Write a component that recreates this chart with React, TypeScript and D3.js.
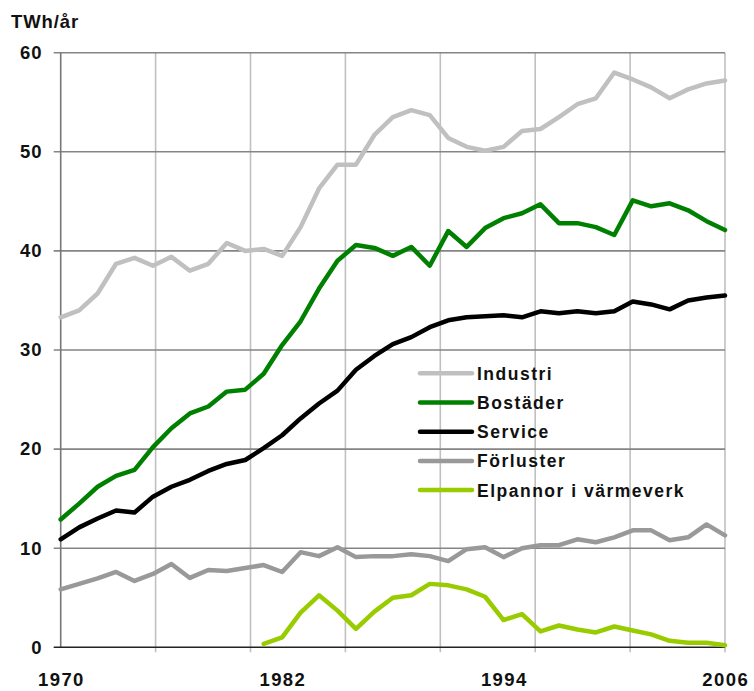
import * as d3 from "d3";

const years = d3.range(1970, 2007);

const industri = [33.3, 34.0, 35.7, 38.7, 39.3, 38.5, 39.4, 38.0, 38.7, 40.8, 40.0, 40.2, 39.5, 42.4, 46.3, 48.7, 48.7, 51.7, 53.5, 54.2, 53.7, 51.4, 50.5, 50.1, 50.5, 52.1, 52.3, 53.5, 54.8, 55.4, 58.0, 57.3, 56.5, 55.4, 56.3, 56.9, 57.2];
const bostader = [12.9, 14.5, 16.2, 17.3, 17.9, 20.2, 22.1, 23.6, 24.3, 25.8, 26.0, 27.6, 30.5, 32.9, 36.2, 39.0, 40.6, 40.3, 39.5, 40.4, 38.5, 42.0, 40.4, 42.3, 43.3, 43.8, 44.7, 42.8, 42.8, 42.4, 41.6, 45.1, 44.5, 44.8, 44.1, 43.0, 42.1];
const service = [10.9, 12.1, 13.0, 13.8, 13.6, 15.2, 16.2, 16.9, 17.8, 18.5, 18.9, 20.1, 21.4, 23.1, 24.6, 25.9, 28.0, 29.4, 30.6, 31.3, 32.3, 33.0, 33.3, 33.4, 33.5, 33.3, 33.9, 33.7, 33.9, 33.7, 33.9, 34.9, 34.6, 34.1, 35.0, 35.3, 35.5];
const forluster = [5.85, 6.4, 6.95, 7.6, 6.7, 7.4, 8.4, 7.0, 7.8, 7.7, 8.0, 8.3, 7.6, 9.6, 9.2, 10.1, 9.1, 9.2, 9.2, 9.4, 9.2, 8.7, 9.9, 10.1, 9.1, 10.0, 10.3, 10.3, 10.9, 10.6, 11.1, 11.8, 11.8, 10.8, 11.1, 12.4, 11.3];
const elpannor = [null, null, null, null, null, null, null, null, null, null, null, 0.35, 1.0, 3.5, 5.25, 3.7, 1.85, 3.6, 5.0, 5.25, 6.4, 6.25, 5.85, 5.1, 2.75, 3.35, 1.6, 2.2, 1.8, 1.5, 2.1, 1.7, 1.3, 0.65, 0.45, 0.45, 0.2];

const seriesNames = ["Industri", "Bostäder", "Service", "Förluster", "Elpannor i värmeverk"];
const seriesColors = ["#c0c0c0", "#008000", "#000000", "#999999", "#99cc00"];
const seriesValues = [industri, bostader, service, forluster, elpannor];

const yTicks = [0, 10, 20, 30, 40, 50, 60];
const xLabels = [1970, 1982, 1994, 2006];

const W = 754;
const H = 691;
const FONT = "'Liberation Sans', Arial, sans-serif";

export default function App() {
  const x = d3.scaleLinear().domain([1970, 2006]).range([60.7, 725]);
  const y = d3.scaleLinear().domain([0, 60]).range([647.3, 52.7]);

  // vertical gridlines split the year span in 7 equal parts
  const vGrid = d3.range(0, 8).map((i) => 1970 + (i * 36) / 7);

  const line = d3
    .line<number | null>()
    .defined((d) => d != null)
    .x((_, i) => x(years[i]))
    .y((d) => y(d as number));

  const legendX = 420;
  const legendY = 373.3;
  const legendStep = 29.2;

  return (
    <svg
      width={W}
      height={H}
      viewBox={`0 0 ${W} ${H}`}
      style={{ position: "absolute", left: 0, top: 0, background: "#fff" }}
    >
      {/* Vertical gridlines with tick stubs below the axis */}
      {vGrid.map((v, i) =>
        i === 0 ? null : (
          <line
            key={"v" + i}
            x1={x(v)}
            x2={x(v)}
            y1={y(60)}
            y2={y(0) + 5}
            stroke="#c0c0c0"
            strokeWidth={1.6}
          />
        )
      )}
      {/* Horizontal gridlines */}
      {yTicks.map((t) =>
        t === 0 ? null : (
          <line
            key={"h" + t}
            x1={x(1970) - 7}
            x2={x(2006)}
            y1={y(t)}
            y2={y(t)}
            stroke="#858585"
            strokeWidth={1.6}
          />
        )
      )}
      {/* Axes */}
      <line x1={x(1970)} x2={x(1970)} y1={y(60)} y2={y(0)} stroke="#777777" strokeWidth={1.6} />
      <line x1={x(1970) - 7} x2={x(2006)} y1={y(0)} y2={y(0)} stroke="#222222" strokeWidth={1.6} />

      {/* Series */}
      {seriesValues.map((vals, i) => (
        <path
          key={seriesNames[i]}
          d={line(vals) ?? ""}
          fill="none"
          stroke={seriesColors[i]}
          strokeWidth={4.5}
          strokeLinejoin="round"
          strokeLinecap="round"
        />
      ))}

      {/* Y tick labels */}
      {yTicks.map((t) => (
        <text
          key={"yl" + t}
          x={42.5}
          y={y(t) + 6.3}
          textAnchor="end"
          fontFamily={FONT}
          fontWeight="bold"
          fontSize={18.5}
          letterSpacing={1}
          fill="#111"
        >
          {t}
        </text>
      ))}
      {/* X labels */}
      {xLabels.map((yr) => (
        <text
          key={"xl" + yr}
          x={x(yr) + 0.7}
          y={686}
          textAnchor="middle"
          fontFamily={FONT}
          fontWeight="bold"
          fontSize={18.5}
          letterSpacing={1.4}
          fill="#111"
        >
          {yr}
        </text>
      ))}
      {/* Unit */}
      <text x={11} y={28} fontFamily={FONT} fontWeight="bold" fontSize={18.5} letterSpacing={0.9} fill="#111">
        TWh/år
      </text>

      {/* Legend */}
      {seriesNames.map((name, i) => (
        <g key={"lg" + i} transform={`translate(${legendX},${legendY + i * legendStep})`}>
          <line x1={0} x2={52} y1={0} y2={0} stroke={seriesColors[i]} strokeWidth={4.5} strokeLinecap="round" />
          <text
            x={57}
            y={6.4}
            fontFamily={FONT}
            fontWeight="bold"
            fontSize={17.5}
            letterSpacing={1.5}
            fill="#111"
          >
            {name}
          </text>
        </g>
      ))}
    </svg>
  );
}
